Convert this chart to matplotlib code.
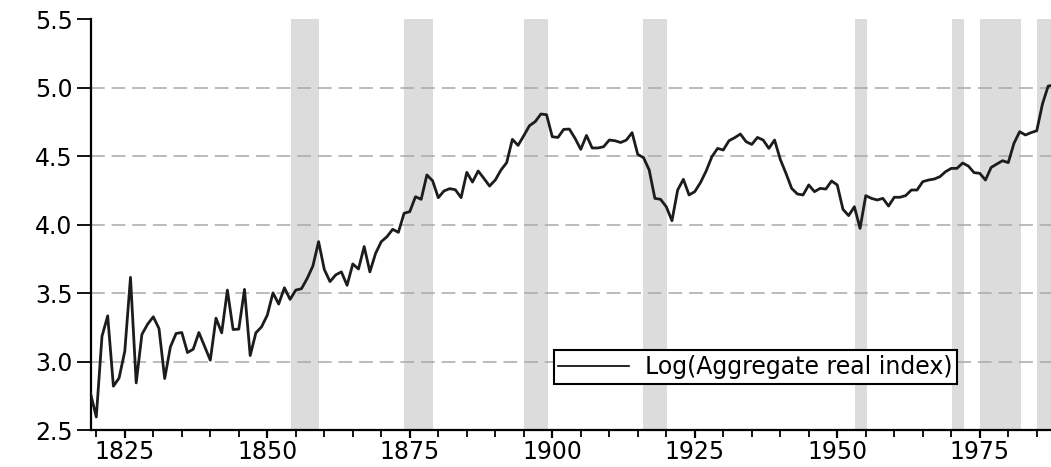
import matplotlib
matplotlib.use("Agg")
import matplotlib.pyplot as plt
from matplotlib.lines import Line2D
from matplotlib.ticker import MultipleLocator

# annual observations, 1819-1988
start_year = 1819
log_index = [
    2.766, 2.595, 3.185, 3.334, 2.820, 2.880, 3.076, 3.615, 2.844, 3.198,  # 1819-1828
    3.273, 3.327, 3.241, 2.876, 3.107, 3.205, 3.212, 3.066, 3.090, 3.212,  # 1829-1838
    3.112, 3.010, 3.317, 3.210, 3.522, 3.234, 3.237, 3.527, 3.044, 3.210,  # 1839-1848
    3.254, 3.339, 3.502, 3.420, 3.539, 3.454, 3.522, 3.532, 3.607, 3.698,  # 1849-1858
    3.876, 3.673, 3.584, 3.633, 3.655, 3.557, 3.713, 3.676, 3.840, 3.655,  # 1859-1868
    3.790, 3.876, 3.912, 3.966, 3.944, 4.083, 4.095, 4.204, 4.185, 4.363,  # 1869-1878
    4.321, 4.197, 4.246, 4.263, 4.255, 4.197, 4.382, 4.311, 4.392, 4.338,  # 1879-1888
    4.282, 4.326, 4.399, 4.453, 4.623, 4.579, 4.650, 4.723, 4.752, 4.808,  # 1889-1898
    4.803, 4.642, 4.637, 4.696, 4.698, 4.630, 4.550, 4.652, 4.560, 4.560,  # 1899-1908
    4.569, 4.618, 4.613, 4.600, 4.618, 4.672, 4.513, 4.490, 4.400, 4.192,  # 1909-1918
    4.185, 4.131, 4.029, 4.253, 4.331, 4.217, 4.241, 4.307, 4.392, 4.496,  # 1919-1928
    4.557, 4.545, 4.613, 4.635, 4.662, 4.606, 4.586, 4.637, 4.618, 4.557,  # 1929-1938
    4.618, 4.477, 4.375, 4.265, 4.224, 4.217, 4.290, 4.241, 4.265, 4.260,  # 1939-1948
    4.319, 4.290, 4.112, 4.066, 4.131, 3.973, 4.212, 4.192, 4.180, 4.192,  # 1949-1958
    4.136, 4.200, 4.200, 4.212, 4.253, 4.253, 4.314, 4.326, 4.333, 4.350,  # 1959-1968
    4.387, 4.411, 4.411, 4.450, 4.428, 4.380, 4.375, 4.326, 4.418, 4.443,  # 1969-1978
    4.467, 4.453, 4.594, 4.679, 4.655, 4.672, 4.686, 4.881, 5.012, 5.020,  # 1979-1988
]
years = list(range(start_year, start_year + len(log_index)))

# shaded periods (start, end)
shade_start = [1854.2, 1874.0, 1895.0, 1916.0, 1953.1, 1970.1, 1975.0, 1985.1]
shade_end = [1859.0, 1879.0, 1899.2, 1920.2, 1955.2, 1972.2, 1982.2, 1990.0]

plt.rcParams['font.family'] = ['DejaVu Sans']

fig = plt.figure(figsize=(10.51, 4.67), dpi=100)
ax = fig.add_axes([0.0862, 0.0792, 0.9138, 0.8795])

for s, e in zip(shade_start, shade_end):
    ax.axvspan(s, e, color='#dcdcdc', lw=0, zorder=0)

for yv in [3.0, 3.5, 4.0, 4.5, 5.0]:
    ax.axhline(yv, color='#a8a8a8', lw=1.1, ls=(0, (9, 4.5)), zorder=1)

ax.plot(years, log_index, color='#1c1c1c', lw=2.0, zorder=3)

ax.set_xlim(1819, 1987.5)
ax.set_ylim(2.5, 5.5)
ax.xaxis.set_major_locator(MultipleLocator(25))
ax.xaxis.set_minor_locator(MultipleLocator(5))
ax.yaxis.set_major_locator(MultipleLocator(0.5))
ax.yaxis.set_major_formatter(plt.FormatStrFormatter('%.1f'))

ax.spines['top'].set_visible(False)
ax.spines['right'].set_visible(False)
ax.spines['left'].set_linewidth(1.6)
ax.spines['bottom'].set_linewidth(1.6)
ax.tick_params(axis='y', direction='out', length=10, width=1.3, labelsize=17, pad=3)
ax.tick_params(axis='x', which='major', direction='out', length=6, width=1.6, labelsize=17, pad=1)
ax.tick_params(axis='x', which='minor', direction='out', length=5, width=1.3)

handle = Line2D([], [], color='black', lw=1.2)
leg = ax.legend([handle], ['Log(Aggregate real index)'], loc='center',
                bbox_to_anchor=(0.692, 0.153), fontsize=17, handlelength=3.0,
                fancybox=False, framealpha=1, edgecolor='black',
                borderpad=0.2, handletextpad=0.65, borderaxespad=0)
leg.get_frame().set_linewidth(1.5)

fig.savefig('out.png', dpi=100)
